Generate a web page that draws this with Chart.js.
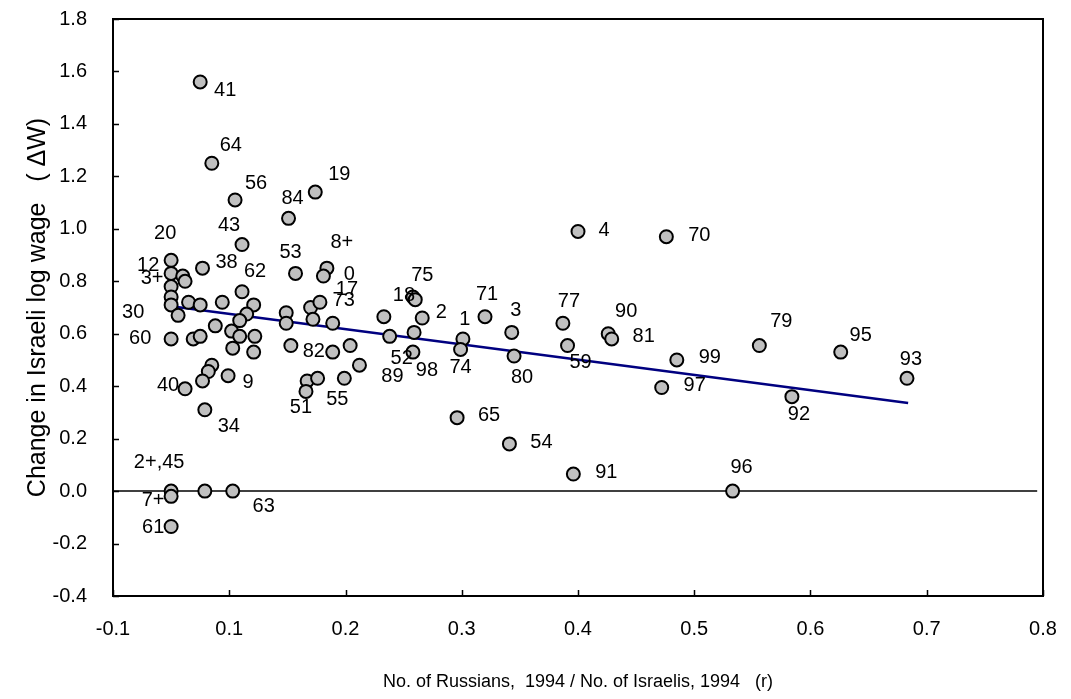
<!DOCTYPE html>
<html>
<head>
<meta charset="utf-8">
<script src="https://cdn.jsdelivr.net/npm/chart.js@4.4.0/dist/chart.umd.min.js"></script>
<style>
  html, body { margin: 0; padding: 0; background: #fff; }
  #wrap { width: 1071px; height: 699px; }
</style>
</head>
<body>
<div id="wrap"><canvas id="chart"></canvas></div>
<script>
// r = Russians / Israelis (1994), dW = change in Israeli log wage, one point per occupation
const xValues = [
  0.075, 0.085, 0.105, 0.151, 0.174, 0.111, 0.05, 0.05, 0.06, 0.062,
  0.05, 0.077, 0.111, 0.157, 0.184, 0.181, 0.05, 0.05, 0.065, 0.075,
  0.056, 0.094, 0.121, 0.115, 0.109, 0.088, 0.102, 0.109, 0.122, 0.05,
  0.069, 0.075, 0.103, 0.121, 0.149, 0.149, 0.17, 0.178, 0.172, 0.189,
  0.233, 0.238, 0.153, 0.189, 0.204, 0.212, 0.085, 0.082, 0.077, 0.099,
  0.062, 0.079, 0.167, 0.176, 0.166, 0.199, 0.05, 0.05, 0.079, 0.103,
  0.05, 0.258, 0.26, 0.266, 0.259, 0.258, 0.301, 0.299, 0.32, 0.343,
  0.345, 0.387, 0.391, 0.296, 0.341, 0.40, 0.476, 0.426, 0.429, 0.485,
  0.472, 0.556, 0.626, 0.683, 0.584, 0.396, 0.533
];
const yValues = [
  1.56, 1.25, 1.11, 1.04, 1.14, 0.94, 0.88, 0.83, 0.82, 0.80,
  0.78, 0.85, 0.76, 0.83, 0.85, 0.82, 0.74, 0.71, 0.72, 0.71,
  0.67, 0.72, 0.71, 0.675, 0.65, 0.63, 0.61, 0.59, 0.59, 0.58,
  0.58, 0.59, 0.545, 0.53, 0.68, 0.64, 0.70, 0.72, 0.655, 0.64,
  0.665, 0.59, 0.555, 0.53, 0.555, 0.48, 0.48, 0.456, 0.42, 0.44,
  0.39, 0.31, 0.42, 0.43, 0.38, 0.43, 0, -0.02, 0, 0,
  -0.135, 0.74, 0.73, 0.66, 0.605, 0.53, 0.58, 0.54, 0.665, 0.605,
  0.515, 0.64, 0.555, 0.28, 0.18, 0.99, 0.97, 0.60, 0.58, 0.50,
  0.395, 0.555, 0.53, 0.43, 0.36, 0.065, 0
];
const pointLabels = [
  '41', '64', '56', '84', '19', '43', '20', '12', '', '',
  '3+', '38', '62', '53', '8+', '0', '', '30', '', '',
  '', '', '', '', '', '', '', '', '', '60',
  '', '', '', '', '', '', '', '17', '', '73',
  '', '52', '82', '', '', '89', '', '', '', '9',
  '40', '34', '', '', '51', '55', '2+,45', '7+', '', '63',
  '61', '18', '75', '2', '', '98', '1', '74', '71', '3',
  '80', '77', '59', '65', '54', '4', '70', '90', '81', '99',
  '97', '79', '95', '93', '92', '91', '96'
];

// fitted line and the zero reference line
const trendX = [0.05, 0.684];
const trendY = [0.705, 0.336];
const zeroX = [0, 0.795];
const zeroY = [0, 0];

const xTickLabels = ['-0.1', '0.1', '0.2', '0.3', '0.4', '0.5', '0.6', '0.7', '0.8'];
const yTickLabels = ['-0.4', '-0.2', '0.0', '0.2', '0.4', '0.6', '0.8', '1.0', '1.2', '1.4', '1.6', '1.8'];

// where each label sits relative to its marker, in pixels
const labelOffsets = {
  '41': [25, 9], '64': [19, -18], '56': [21, -16], '84': [4, -20], '19': [24, -18],
  '43': [-13, -19], '20': [-6, -27], '12': [-23, -8], '3+': [-19, -8], '38': [24, -6],
  '62': [13, -20], '53': [-5, -21], '8+': [15, -26], '0': [26, -2], '30': [-38, 8],
  '60': [-31, 0], '17': [27, -13], '73': [11, -23], '52': [12, 22], '82': [23, 6],
  '89': [33, 11], '9': [20, 7], '40': [-17, -3], '34': [24, 17], '51': [-5, 16],
  '55': [-7, 21], '2+,45': [-12, -29], '7+': [-18, 4], '63': [31, 15], '61': [-18, 1],
  '18': [-9, -2], '75': [7, -24], '2': [19, -6], '98': [14, 18], '1': [2, -19],
  '74': [0, 18], '71': [2, -22], '3': [4, -22], '80': [8, 21], '77': [6, -22],
  '59': [13, 17], '65': [32, -2], '54': [32, -1], '4': [26, -1], '70': [33, -1],
  '90': [18, -22], '81': [32, -2], '99': [33, -2], '97': [33, -2], '79': [22, -24],
  '95': [20, -17], '93': [4, -19], '92': [7, 18], '91': [33, -2], '96': [9, -24]
};

const FONT = '"Liberation Sans", Arial, sans-serif';

const pointLabelPlugin = {
  id: 'pointLabels',
  afterDatasetsDraw(chart) {
    const meta = chart.getDatasetMeta(0);
    const ctx = chart.ctx;
    ctx.save();
    ctx.font = '20px ' + FONT;
    ctx.fillStyle = '#000';
    ctx.textAlign = 'center';
    ctx.textBaseline = 'middle';
    meta.data.forEach((pt, i) => {
      const text = pointLabels[i];
      if (!text) return;
      const off = labelOffsets[text] || [20, 0];
      ctx.fillText(text, pt.x + off[0], pt.y + off[1]);
    });
    ctx.restore();
  }
};

// plot frame with short inward tick marks
const framePlugin = {
  id: 'frame',
  beforeDatasetsDraw(chart) {
    const { ctx, chartArea: a, scales: { x, y } } = chart;
    ctx.save();
    ctx.strokeStyle = '#000';
    ctx.lineWidth = 2;
    ctx.strokeRect(a.left, a.top, a.right - a.left, a.bottom - a.top);
    ctx.lineWidth = 1.5;
    ctx.beginPath();
    x.ticks.forEach(t => {
      const px = Math.round(x.getPixelForValue(t.value)) + 0.5;
      ctx.moveTo(px, a.bottom);
      ctx.lineTo(px, a.bottom - 6);
    });
    y.ticks.forEach(t => {
      const py = Math.round(y.getPixelForValue(t.value)) + 0.5;
      ctx.moveTo(a.left, py);
      ctx.lineTo(a.left + 6, py);
    });
    ctx.stroke();
    ctx.restore();
  }
};

const ctx = document.getElementById('chart').getContext('2d');

new Chart(ctx, {
  type: 'scatter',
  data: {
    datasets: [
      {
        label: 'Occupations',
        data: xValues.map((x, i) => ({ x, y: yValues[i] })),
        backgroundColor: '#c0c0c0',
        borderColor: '#000',
        borderWidth: 2,
        pointRadius: 6.5,
        order: 0
      },
      {
        label: 'Fit',
        data: trendX.map((x, i) => ({ x, y: trendY[i] })),
        showLine: true,
        borderColor: '#000080',
        borderWidth: 2.5,
        pointRadius: 0,
        order: 1
      },
      {
        label: 'Zero',
        data: zeroX.map((x, i) => ({ x, y: zeroY[i] })),
        showLine: true,
        borderColor: '#000',
        borderWidth: 1.5,
        pointRadius: 0,
        order: 2
      }
    ]
  },
  options: {
    responsive: true,
    maintainAspectRatio: false,
    animation: false,
    layout: { padding: { top: 19, right: 28, bottom: 0, left: 0 } },
    plugins: {
      legend: { display: false },
      tooltip: { enabled: false }
    },
    scales: {
      x: {
        type: 'linear',
        min: 0,
        max: 0.8,
        afterFit: (scale) => {
          scale.height = 103;
          scale.paddingLeft = 0;
          scale.paddingRight = 0;
        },
        grid: { display: false },
        border: { display: false },
        ticks: {
          stepSize: 0.1,
          padding: 13,
          color: '#000',
          font: { family: FONT, size: 20 },
          callback: (value, index) => xTickLabels[index]
        },
        title: {
          display: true,
          text: 'No. of Russians,  1994 / No. of Israelis, 1994   (r)',
          color: '#000',
          font: { family: FONT, size: 18 },
          padding: { top: 0, bottom: 6 }
        }
      },
      y: {
        type: 'linear',
        min: -0.4,
        max: 1.8,
        afterFit: (scale) => {
          scale.width = 113;
          scale.paddingTop = 0;
          scale.paddingBottom = 0;
        },
        grid: { display: false },
        border: { display: false },
        ticks: {
          stepSize: 0.2,
          padding: 18,
          color: '#000',
          font: { family: FONT, size: 20 },
          callback: (value, index) => yTickLabels[index]
        },
        title: {
          display: true,
          text: 'Change in Israeli log wage   ( \u0394W)',
          color: '#000',
          font: { family: FONT, size: 25 },
          padding: { top: 23, bottom: 0 }
        }
      }
    }
  },
  plugins: [framePlugin, pointLabelPlugin]
});
</script>
</body>
</html>
